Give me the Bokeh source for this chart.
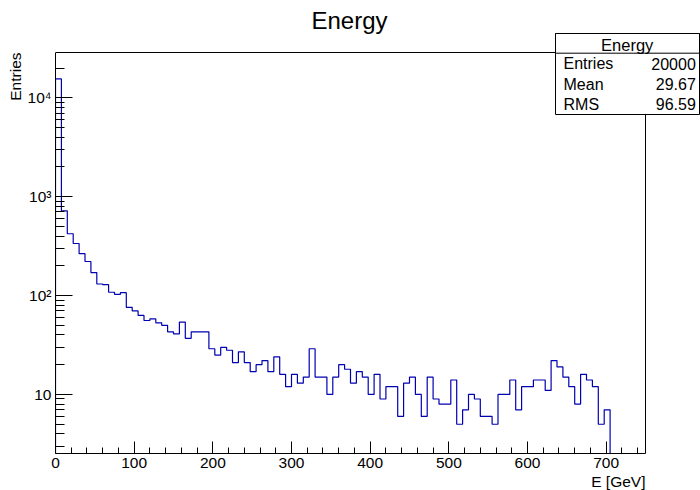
import numpy as np
from bokeh.plotting import figure
from bokeh.models import Label, BoxAnnotation, FixedTicker, Range1d, Title
from bokeh.embed import file_html
from bokeh.resources import INLINE

# ---- data ----
hist_title = "Energy"
x_title = "E [GeV]"
y_title = "Entries"
bin_low = 0.0
bin_high = 750.0
counts = [
    15500, 720, 422, 336, 265, 221, 171, 131, 129, 108,
    103, 107, 76, 70, 63, 56, 58, 53, 50, 43,
    41, 54, 37, 43, 43, 43, 29, 25, 30, 28,
    21, 27, 21, 17, 20, 22, 17, 24, 16, 12,
    16, 13, 15, 29, 15, 15, 10, 15, 20, 18,
    13, 17, 15, 10, 16, 9, 12, 12, 6, 13,
    15, 10, 6, 15, 9, 8, 8, 14, 5, 7,
    10, 9, 6, 6, 5, 10, 10, 14, 7, 12,
    12, 14, 14, 11, 22, 19, 15, 12, 8, 16,
    14, 12, 5, 7, 0, 0, 0, 0, 0, 0,
]
stat_names = ["Entries", "Mean", "RMS"]
stat_values = ["20000", "29.67", "96.59"]
x_major = [0, 100, 200, 300, 400, 500, 600, 700]
y_major = [10, 100, 1000, 10000]
y_major_text = ["10", "10\u00b2", "10\u00b3", "10\u2074"]
y_min, y_max = 2.53, 28700

FONT = "Liberation Sans"

# frame geometry (pixels): histogram area 590 x 401, canvas frame extended to top/right
FW, FH = 590, 401
EXTRA_R, EXTRA_T = 55, 52
x_end = bin_high + (bin_high - bin_low) * EXTRA_R / FW
ldec = (np.log10(y_max) - np.log10(y_min)) / FH
y_end = 10 ** (np.log10(y_max) + ldec * EXTRA_T)

edges = np.linspace(bin_low, bin_high, len(counts) + 1)
floor = y_min / 3
xs = [edges[0]]
ys = [floor]
for i, c in enumerate(counts):
    yv = c if c > 0 else floor
    xs += [edges[i], edges[i + 1]]
    ys += [yv, yv]

p = figure(width=700, height=490, output_backend="svg", toolbar_location=None,
           y_axis_type="log", x_range=Range1d(bin_low, x_end),
           y_range=Range1d(y_min, y_end), title=None,
           min_border_left=55, min_border_right=0, min_border_top=0, min_border_bottom=37)
p.background_fill_color = "white"
p.border_fill_color = "white"
p.outline_line_color = None
p.xgrid.visible = False
p.ygrid.visible = False

# frame top and right edges
p.line([bin_low, bin_high, bin_high], [y_max, y_max, floor], line_color="black", line_width=1)

p.line(xs, ys, line_color="#0000b0", line_width=1.2)

# axes
x_minor = [v for v in range(20, 760, 20) if v % 100 != 0]
p.xaxis.ticker = FixedTicker(ticks=x_major, minor_ticks=x_minor)
p.xaxis.bounds = (bin_low, bin_high)
p.xaxis.major_tick_in = 12
p.xaxis.major_tick_out = 0
p.xaxis.minor_tick_in = 6
p.xaxis.minor_tick_out = 0
p.xaxis.major_label_standoff = 4
minor = []
for d in [1, 10, 100, 1000, 10000]:
    for k in range(2, 10):
        if k * d <= y_max:
            minor.append(k * d)
p.yaxis.ticker = FixedTicker(ticks=y_major, minor_ticks=minor)
p.yaxis.bounds = (y_min, y_max)
p.yaxis.major_label_overrides = {t: s for t, s in zip(y_major, y_major_text)}
p.yaxis.major_tick_in = 17
p.yaxis.major_tick_out = 0
p.yaxis.minor_tick_in = 9
p.yaxis.minor_tick_out = 0
p.yaxis.major_label_standoff = 4
for ax in (p.xaxis, p.yaxis):
    ax.axis_line_color = "black"
    ax.major_tick_line_color = "black"
    ax.minor_tick_line_color = "black"
    ax.major_label_text_font = FONT
    ax.major_label_text_font_size = "15.5px"
    ax.major_label_text_color = "black"

# axis titles
p.add_layout(Title(text=x_title, align="right", offset=EXTRA_R, standoff=0,
                   text_font=FONT, text_font_size="15.5px", text_font_style="normal",
                   text_color="black"), "below")
p.add_layout(Title(text=y_title, align="right", offset=EXTRA_T, standoff=2,
                   text_font=FONT, text_font_size="15.5px", text_font_style="normal",
                   text_color="black"), "left")

# histogram title (screen units relative to frame bottom-left)
p.add_layout(Label(x=294, y=433, x_units="screen", y_units="screen", text=hist_title,
                   text_font=FONT, text_font_size="24px", text_align="center",
                   text_baseline="middle", text_color="black"))

# stats box
box_kw = dict(left_units="screen", right_units="screen", top_units="screen",
              bottom_units="screen", fill_color="white", fill_alpha=1.0,
              line_color="black", line_alpha=1.0, line_width=1)
p.add_layout(BoxAnnotation(left=500, right=644, top=420, bottom=339, **box_kw))
p.add_layout(BoxAnnotation(left=500, right=644, top=420, bottom=400.3, **box_kw))
p.add_layout(Label(x=571.7, y=409, x_units="screen", y_units="screen", text=hist_title,
                   text_font=FONT, text_font_size="16.5px", text_align="center",
                   text_baseline="middle", text_color="black"))
for j, (n, v) in enumerate(zip(stat_names, stat_values)):
    yy = 389.7 - 20.3 * j
    p.add_layout(Label(x=508, y=yy, x_units="screen", y_units="screen", text=n,
                       text_font=FONT, text_font_size="16px", text_align="left",
                       text_baseline="middle", text_color="black"))
    p.add_layout(Label(x=640.3, y=yy, x_units="screen", y_units="screen", text=v,
                       text_font=FONT, text_font_size="16px", text_align="right",
                       text_baseline="middle", text_color="black"))

open("out.html", "w", encoding="utf-8").write(file_html(p, INLINE))
